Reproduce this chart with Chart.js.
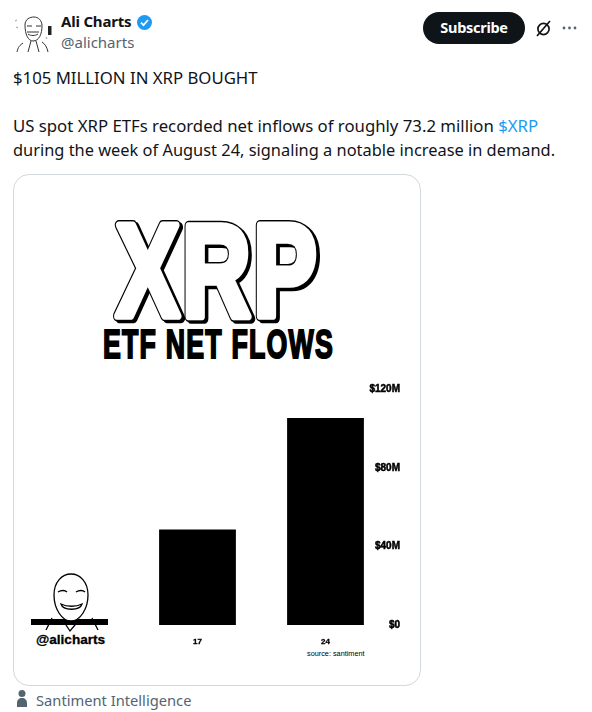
<!DOCTYPE html>
<html><head><meta charset="utf-8">
<style>
html,body{margin:0;padding:0;background:#fff;width:592px;height:712px;overflow:hidden}
.t{position:absolute;white-space:nowrap;font-family:"Noto Sans",sans-serif;color:#0f1419}
#card{position:absolute;left:13px;top:174px;width:406px;height:510px;border:1px solid #cfd9de;border-radius:16px;box-sizing:content-box}
#wrap{position:absolute;left:0;top:0;width:592px;height:712px}
canvas{display:block}
svg{position:absolute;overflow:visible}
</style></head><body>
<svg style="left:13px;top:13px" width="42" height="42" viewBox="0 0 42 42" fill="none" stroke="#333" stroke-width="1">
<path d="M12 12c0-6 5-8 9-8s8 3 8 9c0 8-3 15-9 15-5 0-8-7-8-16z" fill="#fff"/>
<path d="M14 13h5M23 13h5M15 21c3 2 7 2 10 0M14 19h12M10 30c-3 2-5 4-6 9M29 29c3 2 5 5 6 10M18 28l-3 11M23 28l3 11"/>
<rect x="35" y="13" width="3.5" height="9" fill="#222" stroke="none"/>
<path d="M2 8l2-1M3 14l2 1M33 24l1 2" stroke="#999"/>
</svg>
<div class="t" style="left:61px;top:11px;font-size:15px;font-weight:700;letter-spacing:-.2px">Ali Charts</div>
<svg style="left:136px;top:14px" width="17" height="17" viewBox="0 0 17 17"><circle cx="8.5" cy="8.5" r="7.5" fill="#1d9bf0"/><path d="M5 8.7l2.5 2.4L12 6" stroke="#fff" stroke-width="1.8" fill="none"/></svg>
<div class="t" style="left:61px;top:32px;font-size:15px;color:#536471">@alicharts</div>
<div class="t" style="left:423px;top:12px;width:102px;height:32px;line-height:31px;border-radius:16px;background:#0f1419;color:#fff;font-size:14.5px;font-weight:700;text-align:center;letter-spacing:-.3px">Subscribe</div>
<svg style="left:534px;top:19px" width="20" height="20" viewBox="0 0 20 20" fill="none" stroke="#0f1419" stroke-width="1.7"><circle cx="9.5" cy="10" r="5.6"/><path d="M3 17L16 2"/></svg>
<svg style="left:562px;top:25px" width="16" height="6" viewBox="0 0 16 6" fill="#536471"><circle cx="2" cy="3" r="1.4"/><circle cx="7.5" cy="3" r="1.4"/><circle cx="13" cy="3" r="1.4"/></svg>
<div class="t" style="left:13px;top:66px;font-size:16.75px">$105 MILLION IN XRP BOUGHT</div>
<div class="t" style="left:13px;top:114px;font-size:16.75px">US spot XRP ETFs recorded net inflows of roughly 73.2 million <span style="color:#1d9bf0">$XRP</span></div>
<div class="t" style="left:13px;top:138px;font-size:16.4px">during the week of August 24, signaling a notable increase in demand.</div>
<div id="card"></div>
<svg style="left:0;top:0" width="592" height="712">
<g font-family="'Liberation Sans',sans-serif" font-weight="700">
<text transform="translate(116,316) scale(.85,1.17)" font-size="112" fill="#000" stroke="#000" stroke-width="9" stroke-linejoin="round" dx="3" dy="1.5" letter-spacing="3">XRP</text>
<text transform="translate(116,316) scale(.85,1.17)" font-size="112" fill="#000" stroke="#000" stroke-width="9" stroke-linejoin="round" letter-spacing="3">XRP</text>
<text transform="translate(116,316) scale(.85,1.17)" font-size="112" fill="#fff" stroke="#fff" stroke-width="6.5" stroke-linejoin="round" letter-spacing="3">XRP</text>
<text transform="translate(103,358) scale(.81,1.22)" font-size="33" fill="#000" stroke="#000" stroke-width="1.6" letter-spacing="1.5">ETF NET FLOWS</text>
<text x="36" y="644" font-size="13.6" fill="#000" stroke="#000" stroke-width=".3">@alicharts</text>
<text x="307" y="656" font-size="7.3" font-weight="400" fill="#000">source: santiment</text>
</g>
<rect x="31" y="619" width="77" height="6" fill="#000"/>
<g fill="#fff" stroke="#000" stroke-width="1.3">
<path d="M52 618L46 630M92 618L98 630" fill="none"/>
<path d="M54 595c0-13 8-21 17-21s17 8 17 21c0 14-8 26-17 26s-17-12-17-26z"/>
<path d="M62 619L70 631L80 619" fill="none"/>
<path d="M58 592c3-2 7-2 9 0M76 592c3-2 7-2 9 0M61 604c6 3 15 3 21 0c-2 7-19 7-21 0z"/>
</g>
<path d="M22 708v-4c0-3 2-5 5-5s5 2 5 5v4z M27 698a3.5 3.5 0 1 0 0-7a3.5 3.5 0 1 0 0 7z" transform="translate(-5,-1)" fill="#536471"/>
</svg>
<div class="t" style="left:36px;top:690px;font-size:14.7px;color:#536471">Santiment Intelligence</div>
<div id="wrap"><canvas id="c" width="592" height="712" style="width:592px;height:712px"></canvas></div>
<script src="https://cdn.jsdelivr.net/npm/chart.js@4/dist/chart.umd.min.js"></script>
<script>
const categories=["17","24"];
const netFlows=[48.7,105.5];
const yTicks=[0,40,80,120];
const tickLabels=["$0","$40M","$80M","$120M"];
const AXIS_FONT="'Liberation Sans',sans-serif";
new Chart(document.getElementById('c'),{
 type:'bar',
 data:{labels:categories,datasets:[{data:netFlows,backgroundColor:'#000',borderWidth:0,barPercentage:.8,categoryPercentage:.75}]},
 options:{
  responsive:false,animation:false,
  layout:{padding:{left:133.5,top:389.5,right:0,bottom:0}},
  plugins:{legend:{display:false},tooltip:{enabled:false}},
  scales:{
   x:{grid:{display:false},border:{display:false},
      ticks:{color:'#000',font:{family:AXIS_FONT,size:8,weight:'bold'},padding:4,maxRotation:0,textStrokeColor:'#000',textStrokeWidth:.3},
      afterFit(s){s.height=712-625}},
   y:{position:'right',min:0,max:120,grid:{display:false},border:{display:false},
      afterBuildTicks(s){s.ticks=yTicks.map(v=>({value:v}))},
      afterFit(s){s.width=592-389.5},
      ticks:{color:'#000',font:{family:AXIS_FONT,size:10,weight:'bold'},mirror:true,padding:10.5,textStrokeColor:'#000',textStrokeWidth:.5,
        callback:(v)=>tickLabels[yTicks.indexOf(v)]}}
  }
 }
});
</script>
</body></html>
